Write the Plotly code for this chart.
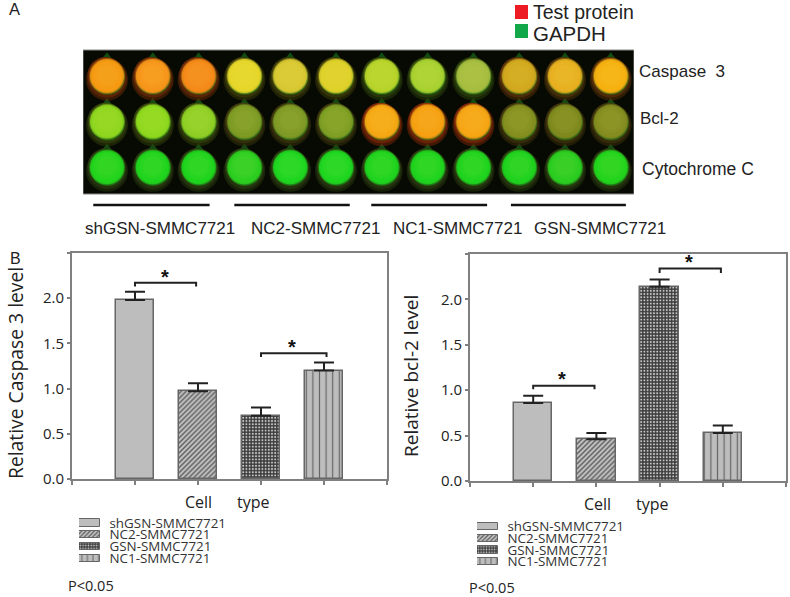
import plotly.graph_objects as go

W, H = 790, 597

# ---- data ----
cell_lines = ["shGSN-SMMC7721", "NC2-SMMC7721", "GSN-SMMC7721", "NC1-SMMC7721"]
caspase_values = [1.98, 0.97, 0.70, 1.20]
caspase_errors = [0.09, 0.09, 0.09, 0.09]
bcl2_values = [0.86, 0.46, 2.14, 0.53]
bcl2_errors = [0.08, 0.07, 0.08, 0.08]
# bracket: first bar, last bar, height, drop end
caspase_brackets = [(1.0, 1.97, 2.17, 2.13), (3.0, 4.04, 1.39, 1.35)]
bcl2_brackets = [(1.0, 1.97, 1.05, 1.01), (3.0, 3.97, 2.34, 2.29)]
caspase_stars = [(1.47, 2.24), (3.49, 1.46)]
bcl2_stars = [(1.46, 1.12), (3.46, 2.41)]
y_ticks = [0, 0.5, 1.0, 1.5, 2.0, 2.5]
y_tick_text = ["0.0", "0.5", "1.0", "1.5", "2.0", ""]

blot_rows = ["Caspase\u00a0\u00a03", "Bcl-2", "Cytochrome C"]
blot_groups = ["shGSN-SMMC7721", "NC2-SMMC7721", "NC1-SMMC7721", "GSN-SMMC7721"]
group_spans = [(-0.30, 2.24), (2.78, 5.30), (5.77, 8.30), (8.82, 11.33)]
well_colors = [
    ["#f59a12", "#f7951a", "#f58a18", "#e6d62a", "#d9c832", "#dfd02a",
     "#b8d42a", "#a9d230", "#a6bd40", "#d2a81e", "#e8b020", "#f6b010"],
    ["#8fd61f", "#8ed81e", "#8fcf25", "#7e9b24", "#7f9a26", "#7f9f24",
     "#f6a814", "#f6a012", "#f6a514", "#858f20", "#7f8a1e", "#858c20"],
    ["#22d41c", "#1fd41d", "#1fd41d", "#2ccf20", "#1ed620", "#1ed620",
     "#1fd41e", "#1fd41e", "#1fd41e", "#1fd21e", "#2acd20", "#22d41c"],
]
halo_colors = [
    ["#6a2a08", "#6a2a08", "#6a2a08", "#3d3a0a", "#3d3a0a", "#3d3a0a",
     "#2c3f0c", "#2c3f0c", "#2c3f0c", "#5a300a", "#4d340a", "#5a300a"],
    ["#33400c", "#33400c", "#33400c", "#3a330c", "#3a330c", "#3a330c",
     "#7a2608", "#7a2608", "#7a2608", "#3d300c", "#3d300c", "#3d300c"],
    ["#2a3a10", "#2a3a10", "#2a3a10", "#2a3a10", "#2a3a10", "#2a3a10",
     "#2a3a10", "#2a3a10", "#2a3a10", "#2a3a10", "#2a3a10", "#2a3a10"],
]

# ---- styles ----
GREY = "#808080"
OS = "Open Sans, Noto Sans, sans-serif"
TICK_FONT = dict(family=OS, size=15, color="#222")
ARIAL = "Liberation Sans, Arial, sans-serif"
patterns = [
    dict(shape="", bgcolor="#bdbdbd"),
    dict(shape="/", size=3.5, solidity=0.4, fgcolor="#5a5a5a", bgcolor="#c4c4c4"),
    dict(shape=".", size=3.2, solidity=0.3, fgcolor="#c8c8c8", bgcolor="#3c3c3c"),
    dict(shape="|", size=6.6, solidity=0.18, fgcolor="#666666", bgcolor="#bdbdbd"),
]


def dx(a, b):
    return [a / W, b / W]


def dy(top, bottom):
    return [1 - bottom / H, 1 - top / H]


fig = go.Figure()
xpos = list(range(1, len(cell_lines) + 1))


def pattern_spec(scale=1.0):
    return dict(
        shape=[p["shape"] for p in patterns],
        size=[p.get("size", 8) * scale for p in patterns],
        solidity=[p.get("solidity", 0.3) for p in patterns],
        fgcolor=[p.get("fgcolor", "#bdbdbd") for p in patterns],
        bgcolor=[p["bgcolor"] for p in patterns],
        fillmode="replace",
    )


def add_bars(values, errors, brackets, stars, xa, ya):
    fig.add_trace(go.Bar(
        x=xpos, y=values, width=0.61, xaxis=xa, yaxis=ya, hovertext=cell_lines,
        marker=dict(color="#bdbdbd", line=dict(color="#666666", width=1.5),
                    pattern=pattern_spec()),
        error_y=dict(type="data", symmetric=False, array=errors,
                     arrayminus=[0] * len(errors), color="#222", thickness=2, width=10),
        showlegend=False))
    for x0, x1, top, low in brackets:
        fig.add_trace(go.Scatter(
            x=[x0, x0, x1, x1], y=[low, top, top, low], xaxis=xa, yaxis=ya,
            mode="lines", line=dict(color="#222", width=2), showlegend=False,
            hoverinfo="skip"))
    for sx, sy in stars:
        fig.add_annotation(x=sx, y=sy, xref=xa, yref=ya, text="<b>*</b>", showarrow=False,
                           font=dict(family=ARIAL, size=20, color="#111"))


add_bars(caspase_values, caspase_errors, caspase_brackets, caspase_stars, "x", "y")
add_bars(bcl2_values, bcl2_errors, bcl2_brackets, bcl2_stars, "x2", "y2")


def add_key(xa, ya):
    fig.add_trace(go.Bar(
        x=[1] * len(cell_lines), y=cell_lines, orientation="h", width=0.62,
        xaxis=xa, yaxis=ya, showlegend=False, cliponaxis=False,
        text=["\u00a0\u00a0" + c for c in cell_lines], textposition="outside",
        constraintext="none",
        textfont=dict(family=OS, size=13.4, color="#333"),
        marker=dict(color="#bdbdbd", line=dict(color="#666666", width=1),
                    pattern=pattern_spec(0.85))))


add_key("x4", "y4")
add_key("x5", "y5")

# ---- blot wells ----
cols = [c for r in range(3) for c in range(12)]
rows = [r for r in range(3) for c in range(12)]
flat = [v for row in well_colors for v in row]
flat_halo = [v for row in halo_colors for v in row]


def well_layer(dxc, dyr, size, color, symbol="circle", opacity=1.0):
    fig.add_trace(go.Scatter(
        x=[c + dxc for c in cols], y=[r + dyr for r in rows], xaxis="x3", yaxis="y3",
        mode="markers", showlegend=False, hoverinfo="skip",
        marker=dict(size=size, color=color, symbol=symbol, opacity=opacity,
                    line=dict(width=0))))


well_layer(0, -0.41, 10, "#17691a", "triangle-up", 0.7)
well_layer(0.0, 0.08, 42, flat_halo, opacity=0.5)
well_layer(0.0, 0.05, 39, flat_halo, opacity=0.7)
well_layer(-0.03, -0.02, 36, flat_halo)
well_layer(0.01, 0.03, 35, "#1f9a20", opacity=0.45)
well_layer(0, 0, 36, flat, opacity=0.35)
well_layer(0, 0, 34, flat, opacity=0.85)
well_layer(0, 0, 31, flat)
well_layer(0, -0.03, 26, "#ffff80", opacity=0.04)
well_layer(0, -0.03, 20, "#ffff80", opacity=0.04)

# ---- shapes ----
shapes = [dict(type="rect", xref="x3", yref="y3", layer="below",
               x0=-0.524, x1=11.507, y0=-0.57, y1=2.588,
               fillcolor="#060a02", line=dict(color="#888", width=1))]
for a, b in group_spans:
    shapes.append(dict(type="line", xref="x3", yref="y3", x0=a, x1=b, y0=2.83, y1=2.83,
                       line=dict(color="#111", width=2.5)))
shapes += [
    dict(type="rect", xref="paper", yref="paper", x0=515 / W, x1=528 / W,
         y0=1 - 19 / H, y1=1 - 5 / H, fillcolor="#ed1c24", line=dict(width=0)),
    dict(type="rect", xref="paper", yref="paper", x0=515 / W, x1=528 / W,
         y0=1 - 38 / H, y1=1 - 24 / H, fillcolor="#12a84a", line=dict(width=0)),
]


def note(text, x, y, size, family=ARIAL, color="#222", angle=0, anchor="left"):
    return dict(text=text, x=(x - 2 if anchor == "left" else x) / W, y=1 - y / H,
                xref="paper", yref="paper", showarrow=False, textangle=angle,
                xanchor=anchor, yanchor="middle", font=dict(family=family, size=size, color=color))


notes = [
    note("A", 9, 9, 16.5), note("B", 10, 258, 16),
    note("Test protein", 533, 12, 19.5), note("GAPDH", 533, 34, 20.5),
    note(blot_rows[0], 639, 72, 17), note(blot_rows[1], 640, 118, 17),
    note(blot_rows[2], 642, 169, 17.5),
    note(blot_groups[0], 85, 228, 17), note(blot_groups[1], 251, 228, 17),
    note(blot_groups[2], 393, 228, 17), note(blot_groups[3], 534, 228, 17),
    note("Cell", 185, 502, 16, OS), note("type", 237, 502, 16, OS),
    note("Cell", 584, 504, 16, OS), note("type", 636, 504, 16, OS),
    note("P<0.05", 68, 585, 14.5, OS), note("P<0.05", 469, 587, 14.5, OS),
    note("Relative Caspase 3 level", 15, 373, 19.3, OS, angle=-90, anchor="center"),
    note("Relative bcl-2 level", 411, 376, 19, OS, angle=-90, anchor="center"),
]
fig.layout.annotations = list(fig.layout.annotations) + notes


def value_axis(domain, anchor):
    return dict(domain=domain, anchor=anchor, range=[0, 2.5], tickmode="array", tickvals=y_ticks,
                ticktext=y_tick_text, ticks="outside", ticklen=3, tickcolor=GREY, tickwidth=1.5,
                showline=True, linecolor=GREY, linewidth=2, mirror=True, showgrid=False,
                zeroline=False, tickfont=TICK_FONT)


def cat_axis(domain, anchor):
    return dict(domain=domain, anchor=anchor, range=[0, 5], tickmode="array",
                tickvals=[0] + xpos + [5], ticktext=[""] * 6, ticks="outside", ticklen=4,
                tickcolor=GREY, tickwidth=1.5, showline=True, linecolor=GREY, linewidth=2,
                mirror=True, showgrid=False, zeroline=False)


hidden = dict(visible=False, showgrid=False, zeroline=False)
fig.update_layout(
    width=W, height=H, margin=dict(l=0, r=0, t=0, b=0, pad=0, autoexpand=False),
    paper_bgcolor="white", plot_bgcolor="rgba(0,0,0,0)", showlegend=False, bargap=0,
    xaxis=cat_axis(dx(72, 387), "y"),
    yaxis=value_axis(dy(253, 479), "x"),
    xaxis2=cat_axis(dx(470, 786), "y2"),
    yaxis2=value_axis(dy(254, 481), "x2"),
    xaxis3=dict(domain=dx(83, 634), anchor="y3", range=[-0.524, 11.507], **hidden),
    yaxis3=dict(domain=dy(0, 240), anchor="x3", range=[(240 - 76) / 45.6, -76 / 45.6], **hidden),
    xaxis4=dict(domain=dx(79, 100), anchor="y4", range=[0, 1], **hidden),
    yaxis4=dict(domain=dy(517, 564.4), anchor="x4", autorange="reversed", type="category", **hidden),
    xaxis5=dict(domain=dx(477, 498), anchor="y5", range=[0, 1], **hidden),
    yaxis5=dict(domain=dy(521, 567.5), anchor="x5", autorange="reversed", type="category", **hidden),
    shapes=shapes,
)

fig.write_html("out.html", config=dict(displayModeBar=False),
               post_script="document.body.style.margin='0';")
